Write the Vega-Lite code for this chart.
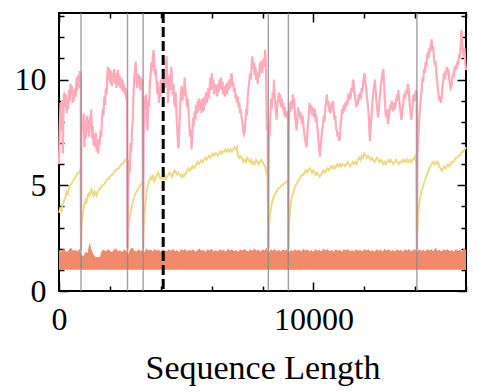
{
"$schema":"https://vega.github.io/schema/vega-lite/v6.json",
"width":407,"height":278,
"autosize":{"type":"none"},
"padding":{"left":59,"top":13,"right":13,"bottom":101},
"background":"white",
"config":{"view":{"stroke":"black","strokeWidth":2},
"axis":{"labelFont":"Liberation Serif","titleFont":"Liberation Serif","labelFontSize":32,"titleFontSize":34,"titleFontWeight":"normal","labelColor":"black","titleColor":"black","domain":false,"grid":false,"tickColor":"black","tickWidth":1.5,"labelOverlap":false,"labelFlush":false}},
"datasets":{
"orange":[{"x":0,"y":1.93},{"x":80,"y":1.86},{"x":160,"y":1.99},{"x":240,"y":1.91},{"x":320,"y":1.84},{"x":400,"y":1.97},{"x":480,"y":2.04},{"x":560,"y":1.89},{"x":640,"y":1.95},{"x":720,"y":1.86},{"x":800,"y":2.0},{"x":880,"y":1.7},{"x":960,"y":1.65},{"x":1040,"y":1.85},{"x":1120,"y":1.78},{"x":1200,"y":2.3},{"x":1280,"y":1.95},{"x":1360,"y":1.72},{"x":1440,"y":1.6},{"x":1520,"y":1.62},{"x":1600,"y":1.58},{"x":1680,"y":1.9},{"x":1760,"y":1.95},{"x":1840,"y":1.87},{"x":1920,"y":1.98},{"x":2000,"y":1.9},{"x":2080,"y":1.84},{"x":2160,"y":1.95},{"x":2240,"y":2.01},{"x":2320,"y":1.88},{"x":2400,"y":1.93},{"x":2480,"y":1.85},{"x":2560,"y":1.97},{"x":2640,"y":1.9},{"x":2720,"y":1.75},{"x":2800,"y":1.98},{"x":2880,"y":2.06},{"x":2960,"y":1.91},{"x":3040,"y":1.87},{"x":3120,"y":1.98},{"x":3200,"y":1.9},{"x":3280,"y":1.94},{"x":3360,"y":1.85},{"x":3440,"y":2.02},{"x":3520,"y":1.92},{"x":3600,"y":1.97},{"x":3680,"y":1.87},{"x":3760,"y":1.99},{"x":3840,"y":1.91},{"x":3920,"y":1.95},{"x":4000,"y":1.86},{"x":4080,"y":1.98},{"x":4160,"y":1.92},{"x":4240,"y":1.88},{"x":4320,"y":1.97},{"x":4400,"y":1.9},{"x":4480,"y":2.0},{"x":4560,"y":1.87},{"x":4640,"y":1.94},{"x":4720,"y":1.85},{"x":4800,"y":1.97},{"x":4880,"y":1.91},{"x":4960,"y":1.99},{"x":5040,"y":1.88},{"x":5120,"y":1.95},{"x":5200,"y":1.9},{"x":5280,"y":1.98},{"x":5360,"y":1.87},{"x":5440,"y":1.93},{"x":5520,"y":2.01},{"x":5600,"y":1.9},{"x":5680,"y":1.95},{"x":5760,"y":1.86},{"x":5840,"y":1.97},{"x":5920,"y":1.91},{"x":6000,"y":1.99},{"x":6080,"y":1.88},{"x":6160,"y":1.94},{"x":6240,"y":1.87},{"x":6320,"y":1.98},{"x":6400,"y":1.9},{"x":6480,"y":1.95},{"x":6560,"y":1.86},{"x":6640,"y":2.0},{"x":6720,"y":1.91},{"x":6800,"y":1.97},{"x":6880,"y":1.88},{"x":6960,"y":1.94},{"x":7040,"y":1.85},{"x":7120,"y":1.97},{"x":7200,"y":1.9},{"x":7280,"y":1.99},{"x":7360,"y":1.92},{"x":7440,"y":1.87},{"x":7520,"y":1.97},{"x":7600,"y":1.9},{"x":7680,"y":2.01},{"x":7760,"y":1.91},{"x":7840,"y":1.95},{"x":7920,"y":1.87},{"x":8000,"y":1.98},{"x":8080,"y":1.92},{"x":8160,"y":2.04},{"x":8240,"y":1.82},{"x":8320,"y":1.97},{"x":8400,"y":1.9},{"x":8480,"y":1.99},{"x":8560,"y":1.88},{"x":8640,"y":1.95},{"x":8720,"y":1.87},{"x":8800,"y":1.98},{"x":8880,"y":1.91},{"x":8960,"y":1.97},{"x":9040,"y":1.84},{"x":9120,"y":1.94},{"x":9200,"y":1.88},{"x":9280,"y":1.98},{"x":9360,"y":1.9},{"x":9440,"y":1.95},{"x":9520,"y":1.87},{"x":9600,"y":1.99},{"x":9680,"y":1.91},{"x":9760,"y":1.97},{"x":9840,"y":1.88},{"x":9920,"y":1.94},{"x":10000,"y":1.86},{"x":10080,"y":1.98},{"x":10160,"y":1.9},{"x":10240,"y":1.95},{"x":10320,"y":1.87},{"x":10400,"y":2.0},{"x":10480,"y":1.91},{"x":10560,"y":1.97},{"x":10640,"y":1.88},{"x":10720,"y":1.94},{"x":10800,"y":1.87},{"x":10880,"y":1.98},{"x":10960,"y":1.9},{"x":11040,"y":1.95},{"x":11120,"y":1.86},{"x":11200,"y":1.97},{"x":11280,"y":1.91},{"x":11360,"y":1.99},{"x":11440,"y":1.88},{"x":11520,"y":1.94},{"x":11600,"y":1.87},{"x":11680,"y":1.98},{"x":11760,"y":1.9},{"x":11840,"y":1.95},{"x":11920,"y":1.87},{"x":12000,"y":1.99},{"x":12080,"y":1.91},{"x":12160,"y":1.97},{"x":12240,"y":1.88},{"x":12320,"y":1.94},{"x":12400,"y":1.86},{"x":12480,"y":1.98},{"x":12560,"y":1.9},{"x":12640,"y":1.95},{"x":12720,"y":1.87},{"x":12800,"y":1.99},{"x":12880,"y":1.91},{"x":12960,"y":1.97},{"x":13040,"y":1.88},{"x":13120,"y":1.94},{"x":13200,"y":1.87},{"x":13280,"y":1.98},{"x":13360,"y":1.9},{"x":13440,"y":1.95},{"x":13520,"y":1.86},{"x":13600,"y":1.97},{"x":13680,"y":1.91},{"x":13760,"y":1.99},{"x":13840,"y":1.88},{"x":13920,"y":1.94},{"x":14000,"y":1.99},{"x":14080,"y":1.85},{"x":14160,"y":1.97},{"x":14240,"y":1.9},{"x":14320,"y":1.95},{"x":14400,"y":1.87},{"x":14480,"y":1.99},{"x":14560,"y":1.91},{"x":14640,"y":1.97},{"x":14720,"y":1.88},{"x":14800,"y":2.04},{"x":14880,"y":1.9},{"x":14960,"y":1.95},{"x":15040,"y":1.87},{"x":15120,"y":1.98},{"x":15200,"y":1.91},{"x":15280,"y":1.97},{"x":15360,"y":1.88},{"x":15440,"y":1.94},{"x":15520,"y":1.86},{"x":15600,"y":1.98},{"x":15680,"y":1.9},{"x":15760,"y":1.95},{"x":15840,"y":1.87},{"x":15920,"y":2.02},{"x":16000,"y":1.95}],
"yellow":[{"x":0,"y":3.7},{"x":50,"y":3.9},{"x":100,"y":3.8},{"x":150,"y":4.1},{"x":200,"y":4.3},{"x":250,"y":4.4},{"x":300,"y":4.7},{"x":350,"y":4.6},{"x":400,"y":4.9},{"x":450,"y":5.0},{"x":500,"y":5.1},{"x":550,"y":5.2},{"x":600,"y":5.3},{"x":650,"y":5.4},{"x":700,"y":5.5},{"x":750,"y":5.6},{"x":800,"y":5.6},{"x":850,"y":5.8},{"x":866,"y":1.9},{"x":880,"y":3.0},{"x":920,"y":3.5},{"x":960,"y":3.8},{"x":1000,"y":4.1},{"x":1040,"y":4.3},{"x":1080,"y":4.2},{"x":1120,"y":4.5},{"x":1160,"y":4.6},{"x":1200,"y":4.5},{"x":1240,"y":4.7},{"x":1280,"y":4.8},{"x":1320,"y":4.6},{"x":1360,"y":4.5},{"x":1400,"y":4.7},{"x":1440,"y":4.6},{"x":1480,"y":4.5},{"x":1520,"y":4.7},{"x":1560,"y":4.8},{"x":1600,"y":4.8},{"x":1650,"y":4.9},{"x":1700,"y":5.0},{"x":1750,"y":5.0},{"x":1800,"y":5.1},{"x":1850,"y":5.2},{"x":1900,"y":5.3},{"x":1950,"y":5.3},{"x":2000,"y":5.4},{"x":2050,"y":5.5},{"x":2100,"y":5.5},{"x":2150,"y":5.6},{"x":2200,"y":5.7},{"x":2250,"y":5.7},{"x":2300,"y":5.8},{"x":2350,"y":5.8},{"x":2400,"y":5.9},{"x":2450,"y":6.0},{"x":2500,"y":6.0},{"x":2550,"y":6.1},{"x":2600,"y":6.2},{"x":2650,"y":6.2},{"x":2680,"y":6.3},{"x":2693,"y":1.9},{"x":2710,"y":2.6},{"x":2750,"y":3.2},{"x":2800,"y":3.6},{"x":2850,"y":3.9},{"x":2900,"y":4.2},{"x":2950,"y":4.4},{"x":3000,"y":4.6},{"x":3050,"y":4.7},{"x":3100,"y":4.8},{"x":3150,"y":4.9},{"x":3200,"y":5.0},{"x":3250,"y":5.1},{"x":3290,"y":5.2},{"x":3307,"y":1.9},{"x":3320,"y":2.9},{"x":3360,"y":3.6},{"x":3400,"y":4.2},{"x":3450,"y":4.7},{"x":3500,"y":5.0},{"x":3550,"y":5.2},{"x":3600,"y":5.4},{"x":3650,"y":5.3},{"x":3700,"y":5.5},{"x":3750,"y":5.2},{"x":3800,"y":5.3},{"x":3850,"y":5.5},{"x":3900,"y":5.6},{"x":3950,"y":5.4},{"x":4000,"y":5.3},{"x":4050,"y":5.4},{"x":4100,"y":5.3},{"x":4150,"y":5.5},{"x":4200,"y":5.3},{"x":4250,"y":5.4},{"x":4300,"y":5.5},{"x":4350,"y":5.6},{"x":4400,"y":5.5},{"x":4450,"y":5.4},{"x":4500,"y":5.6},{"x":4550,"y":5.7},{"x":4600,"y":5.6},{"x":4650,"y":5.5},{"x":4700,"y":5.6},{"x":4750,"y":5.5},{"x":4800,"y":5.4},{"x":4850,"y":5.5},{"x":4900,"y":5.4},{"x":4950,"y":5.5},{"x":5000,"y":5.6},{"x":5050,"y":5.7},{"x":5100,"y":5.8},{"x":5150,"y":5.7},{"x":5200,"y":5.8},{"x":5250,"y":5.9},{"x":5300,"y":5.8},{"x":5350,"y":5.9},{"x":5400,"y":6.0},{"x":5450,"y":6.1},{"x":5500,"y":6.0},{"x":5550,"y":6.1},{"x":5600,"y":6.2},{"x":5650,"y":6.1},{"x":5700,"y":6.2},{"x":5750,"y":6.3},{"x":5800,"y":6.2},{"x":5850,"y":6.3},{"x":5900,"y":6.4},{"x":5950,"y":6.3},{"x":6000,"y":6.4},{"x":6050,"y":6.5},{"x":6100,"y":6.4},{"x":6150,"y":6.5},{"x":6200,"y":6.5},{"x":6250,"y":6.4},{"x":6300,"y":6.5},{"x":6350,"y":6.6},{"x":6400,"y":6.5},{"x":6450,"y":6.6},{"x":6500,"y":6.6},{"x":6550,"y":6.7},{"x":6600,"y":6.6},{"x":6650,"y":6.7},{"x":6700,"y":6.6},{"x":6750,"y":6.7},{"x":6800,"y":6.6},{"x":6850,"y":6.7},{"x":6900,"y":6.8},{"x":6950,"y":6.7},{"x":7000,"y":6.8},{"x":7030,"y":6.4},{"x":7080,"y":6.3},{"x":7120,"y":6.4},{"x":7160,"y":6.3},{"x":7200,"y":6.3},{"x":7250,"y":6.1},{"x":7300,"y":6.2},{"x":7350,"y":6.1},{"x":7400,"y":6.3},{"x":7450,"y":6.2},{"x":7500,"y":6.1},{"x":7550,"y":6.2},{"x":7600,"y":6.0},{"x":7650,"y":6.1},{"x":7700,"y":6.0},{"x":7750,"y":6.2},{"x":7800,"y":6.1},{"x":7850,"y":6.0},{"x":7900,"y":6.1},{"x":7950,"y":6.2},{"x":8000,"y":6.1},{"x":8050,"y":6.0},{"x":8100,"y":5.9},{"x":8150,"y":5.6},{"x":8200,"y":5.4},{"x":8228,"y":1.9},{"x":8240,"y":2.7},{"x":8280,"y":3.4},{"x":8320,"y":3.8},{"x":8360,"y":4.1},{"x":8400,"y":4.3},{"x":8450,"y":4.5},{"x":8500,"y":4.6},{"x":8550,"y":4.7},{"x":8600,"y":4.8},{"x":8650,"y":4.9},{"x":8700,"y":4.9},{"x":8750,"y":5.0},{"x":8800,"y":5.0},{"x":8850,"y":5.1},{"x":8900,"y":5.1},{"x":8950,"y":5.2},{"x":9000,"y":5.2},{"x":9016,"y":1.9},{"x":9030,"y":2.8},{"x":9070,"y":3.6},{"x":9110,"y":4.1},{"x":9150,"y":4.4},{"x":9200,"y":4.6},{"x":9250,"y":4.8},{"x":9300,"y":5.0},{"x":9350,"y":5.1},{"x":9400,"y":5.2},{"x":9450,"y":5.3},{"x":9500,"y":5.4},{"x":9550,"y":5.5},{"x":9600,"y":5.5},{"x":9650,"y":5.6},{"x":9700,"y":5.7},{"x":9750,"y":5.6},{"x":9800,"y":5.7},{"x":9850,"y":5.8},{"x":9900,"y":5.7},{"x":9950,"y":5.6},{"x":10000,"y":5.7},{"x":10050,"y":5.6},{"x":10100,"y":5.5},{"x":10150,"y":5.6},{"x":10200,"y":5.5},{"x":10250,"y":5.4},{"x":10300,"y":5.5},{"x":10350,"y":5.6},{"x":10400,"y":5.7},{"x":10450,"y":5.6},{"x":10500,"y":5.7},{"x":10550,"y":5.8},{"x":10600,"y":5.7},{"x":10650,"y":5.8},{"x":10700,"y":5.9},{"x":10750,"y":5.8},{"x":10800,"y":5.9},{"x":10850,"y":5.8},{"x":10900,"y":5.9},{"x":10950,"y":6.0},{"x":11000,"y":5.9},{"x":11050,"y":6.0},{"x":11100,"y":5.9},{"x":11150,"y":6.0},{"x":11200,"y":6.0},{"x":11250,"y":5.9},{"x":11300,"y":6.0},{"x":11350,"y":6.1},{"x":11400,"y":6.0},{"x":11450,"y":5.9},{"x":11500,"y":6.0},{"x":11550,"y":6.1},{"x":11600,"y":6.0},{"x":11650,"y":6.1},{"x":11700,"y":6.0},{"x":11750,"y":6.2},{"x":11800,"y":6.3},{"x":11850,"y":6.2},{"x":11900,"y":6.4},{"x":11950,"y":6.3},{"x":12000,"y":6.5},{"x":12050,"y":6.4},{"x":12100,"y":6.3},{"x":12150,"y":6.4},{"x":12200,"y":6.3},{"x":12250,"y":6.2},{"x":12300,"y":6.3},{"x":12350,"y":6.2},{"x":12400,"y":6.1},{"x":12450,"y":6.2},{"x":12500,"y":6.3},{"x":12550,"y":6.2},{"x":12600,"y":6.1},{"x":12650,"y":6.2},{"x":12700,"y":6.1},{"x":12750,"y":6.0},{"x":12800,"y":6.1},{"x":12850,"y":6.0},{"x":12900,"y":6.1},{"x":12950,"y":6.2},{"x":13000,"y":6.1},{"x":13050,"y":6.2},{"x":13100,"y":6.1},{"x":13150,"y":6.0},{"x":13200,"y":6.1},{"x":13250,"y":6.2},{"x":13300,"y":6.1},{"x":13350,"y":6.0},{"x":13400,"y":6.1},{"x":13450,"y":6.1},{"x":13500,"y":6.2},{"x":13550,"y":6.1},{"x":13600,"y":6.2},{"x":13650,"y":6.1},{"x":13700,"y":6.2},{"x":13750,"y":6.1},{"x":13800,"y":6.2},{"x":13850,"y":6.1},{"x":13900,"y":6.2},{"x":13950,"y":6.3},{"x":14000,"y":6.2},{"x":14040,"y":6.5},{"x":14070,"y":1.9},{"x":14085,"y":2.8},{"x":14120,"y":3.6},{"x":14160,"y":4.1},{"x":14200,"y":4.4},{"x":14250,"y":4.7},{"x":14300,"y":4.9},{"x":14350,"y":5.1},{"x":14400,"y":5.3},{"x":14450,"y":5.5},{"x":14500,"y":5.6},{"x":14550,"y":5.8},{"x":14600,"y":5.9},{"x":14650,"y":6.0},{"x":14700,"y":6.1},{"x":14750,"y":6.0},{"x":14800,"y":6.1},{"x":14850,"y":6.0},{"x":14900,"y":6.1},{"x":14950,"y":5.9},{"x":15000,"y":5.8},{"x":15050,"y":5.7},{"x":15100,"y":5.8},{"x":15150,"y":5.9},{"x":15200,"y":5.8},{"x":15250,"y":5.9},{"x":15300,"y":6.0},{"x":15350,"y":5.9},{"x":15400,"y":6.0},{"x":15450,"y":6.1},{"x":15500,"y":6.1},{"x":15550,"y":6.2},{"x":15600,"y":6.3},{"x":15650,"y":6.3},{"x":15700,"y":6.4},{"x":15750,"y":6.4},{"x":15800,"y":6.5},{"x":15850,"y":6.6},{"x":15900,"y":6.6},{"x":15950,"y":6.7},{"x":16000,"y":6.8}],
"pink":[{"x":0,"y":6.0},{"x":30,"y":7.8},{"x":60,"y":8.9},{"x":90,"y":7.6},{"x":120,"y":9.0},{"x":150,"y":6.5},{"x":180,"y":8.8},{"x":210,"y":9.4},{"x":240,"y":8.7},{"x":270,"y":9.3},{"x":300,"y":8.4},{"x":330,"y":9.1},{"x":360,"y":8.6},{"x":390,"y":9.5},{"x":420,"y":9.0},{"x":450,"y":9.8},{"x":480,"y":9.3},{"x":510,"y":9.7},{"x":540,"y":8.9},{"x":570,"y":9.5},{"x":600,"y":9.0},{"x":630,"y":9.6},{"x":660,"y":9.2},{"x":690,"y":10.1},{"x":720,"y":9.5},{"x":750,"y":10.2},{"x":780,"y":9.6},{"x":810,"y":10.4},{"x":840,"y":9.8},{"x":855,"y":10.3},{"x":866,"y":2.0},{"x":880,"y":7.4},{"x":910,"y":8.2},{"x":940,"y":7.6},{"x":970,"y":8.4},{"x":1000,"y":6.8},{"x":1030,"y":8.0},{"x":1060,"y":7.2},{"x":1090,"y":8.3},{"x":1120,"y":7.6},{"x":1150,"y":8.1},{"x":1180,"y":7.3},{"x":1210,"y":8.3},{"x":1240,"y":7.7},{"x":1270,"y":8.6},{"x":1300,"y":7.2},{"x":1330,"y":7.8},{"x":1360,"y":6.9},{"x":1390,"y":7.4},{"x":1420,"y":6.8},{"x":1450,"y":7.5},{"x":1480,"y":6.6},{"x":1510,"y":7.2},{"x":1540,"y":6.5},{"x":1570,"y":7.1},{"x":1600,"y":6.9},{"x":1630,"y":7.6},{"x":1660,"y":7.3},{"x":1690,"y":8.1},{"x":1720,"y":8.6},{"x":1750,"y":8.3},{"x":1780,"y":9.2},{"x":1810,"y":8.8},{"x":1840,"y":9.6},{"x":1870,"y":9.3},{"x":1900,"y":10.2},{"x":1930,"y":10.6},{"x":1960,"y":10.0},{"x":1990,"y":10.5},{"x":2020,"y":9.8},{"x":2050,"y":10.4},{"x":2080,"y":9.7},{"x":2110,"y":10.3},{"x":2140,"y":9.9},{"x":2170,"y":10.5},{"x":2200,"y":9.8},{"x":2230,"y":10.3},{"x":2260,"y":9.6},{"x":2290,"y":10.2},{"x":2320,"y":10.45},{"x":2350,"y":9.7},{"x":2380,"y":10.2},{"x":2410,"y":9.6},{"x":2440,"y":10.1},{"x":2470,"y":9.5},{"x":2500,"y":10.0},{"x":2530,"y":9.4},{"x":2560,"y":9.8},{"x":2590,"y":9.3},{"x":2620,"y":9.6},{"x":2650,"y":9.0},{"x":2675,"y":9.3},{"x":2693,"y":2.0},{"x":2720,"y":4.5},{"x":2750,"y":6.2},{"x":2780,"y":5.6},{"x":2810,"y":7.0},{"x":2840,"y":6.6},{"x":2870,"y":7.6},{"x":2900,"y":8.1},{"x":2930,"y":9.4},{"x":2960,"y":10.1},{"x":2990,"y":10.5},{"x":3015,"y":10.85},{"x":3040,"y":10.2},{"x":3070,"y":9.6},{"x":3100,"y":10.3},{"x":3130,"y":9.7},{"x":3160,"y":10.2},{"x":3190,"y":9.5},{"x":3220,"y":10.1},{"x":3250,"y":9.8},{"x":3280,"y":10.0},{"x":3307,"y":2.0},{"x":3330,"y":7.5},{"x":3360,"y":9.2},{"x":3390,"y":8.6},{"x":3420,"y":9.3},{"x":3450,"y":8.2},{"x":3480,"y":7.6},{"x":3510,"y":9.0},{"x":3540,"y":8.7},{"x":3570,"y":9.8},{"x":3600,"y":10.2},{"x":3630,"y":10.8},{"x":3660,"y":10.4},{"x":3690,"y":11.1},{"x":3720,"y":11.4},{"x":3750,"y":10.7},{"x":3780,"y":10.2},{"x":3810,"y":10.5},{"x":3840,"y":9.8},{"x":3870,"y":9.3},{"x":3900,"y":9.9},{"x":3930,"y":8.9},{"x":3960,"y":9.6},{"x":3990,"y":9.2},{"x":4020,"y":10.0},{"x":4050,"y":9.5},{"x":4080,"y":10.2},{"x":4110,"y":9.4},{"x":4140,"y":10.1},{"x":4170,"y":9.6},{"x":4200,"y":10.6},{"x":4230,"y":11.1},{"x":4260,"y":9.8},{"x":4290,"y":8.9},{"x":4320,"y":9.7},{"x":4350,"y":10.2},{"x":4380,"y":9.5},{"x":4410,"y":10.6},{"x":4440,"y":10.0},{"x":4470,"y":9.3},{"x":4500,"y":9.8},{"x":4530,"y":8.9},{"x":4560,"y":8.7},{"x":4590,"y":9.4},{"x":4620,"y":8.3},{"x":4650,"y":7.6},{"x":4680,"y":6.9},{"x":4700,"y":6.75},{"x":4730,"y":7.8},{"x":4760,"y":8.8},{"x":4790,"y":9.3},{"x":4820,"y":9.7},{"x":4850,"y":9.0},{"x":4880,"y":9.6},{"x":4910,"y":9.2},{"x":4940,"y":10.1},{"x":4970,"y":9.5},{"x":5000,"y":9.2},{"x":5030,"y":8.7},{"x":5060,"y":9.1},{"x":5090,"y":8.6},{"x":5120,"y":7.9},{"x":5150,"y":7.3},{"x":5180,"y":7.6},{"x":5210,"y":6.7},{"x":5240,"y":7.4},{"x":5270,"y":8.2},{"x":5300,"y":7.8},{"x":5330,"y":8.5},{"x":5360,"y":8.1},{"x":5390,"y":8.8},{"x":5420,"y":8.4},{"x":5450,"y":9.0},{"x":5480,"y":8.5},{"x":5510,"y":9.1},{"x":5540,"y":8.6},{"x":5570,"y":9.0},{"x":5600,"y":8.4},{"x":5630,"y":9.1},{"x":5660,"y":8.9},{"x":5690,"y":8.5},{"x":5720,"y":9.2},{"x":5750,"y":8.8},{"x":5780,"y":9.4},{"x":5810,"y":8.9},{"x":5840,"y":9.2},{"x":5870,"y":9.6},{"x":5900,"y":9.1},{"x":5930,"y":9.8},{"x":5960,"y":10.1},{"x":5990,"y":9.5},{"x":6010,"y":10.3},{"x":6040,"y":9.6},{"x":6070,"y":10.0},{"x":6100,"y":9.3},{"x":6130,"y":9.8},{"x":6160,"y":9.5},{"x":6190,"y":9.7},{"x":6220,"y":9.2},{"x":6250,"y":9.8},{"x":6280,"y":9.4},{"x":6310,"y":10.0},{"x":6340,"y":9.6},{"x":6370,"y":10.1},{"x":6400,"y":9.5},{"x":6430,"y":9.9},{"x":6460,"y":9.3},{"x":6490,"y":9.7},{"x":6520,"y":9.2},{"x":6550,"y":9.5},{"x":6580,"y":9.8},{"x":6610,"y":9.3},{"x":6640,"y":9.9},{"x":6670,"y":9.5},{"x":6700,"y":10.0},{"x":6730,"y":9.6},{"x":6760,"y":10.2},{"x":6790,"y":10.3},{"x":6820,"y":9.7},{"x":6850,"y":9.9},{"x":6880,"y":9.4},{"x":6910,"y":9.6},{"x":6940,"y":9.1},{"x":6970,"y":9.3},{"x":7000,"y":8.9},{"x":7030,"y":9.2},{"x":7060,"y":8.7},{"x":7090,"y":8.9},{"x":7120,"y":8.4},{"x":7150,"y":8.6},{"x":7180,"y":8.2},{"x":7210,"y":8.0},{"x":7240,"y":7.6},{"x":7270,"y":7.4},{"x":7300,"y":7.5},{"x":7330,"y":8.1},{"x":7360,"y":8.6},{"x":7390,"y":8.3},{"x":7420,"y":9.2},{"x":7450,"y":9.6},{"x":7480,"y":9.9},{"x":7510,"y":10.3},{"x":7540,"y":10.0},{"x":7570,"y":10.6},{"x":7600,"y":11.1},{"x":7630,"y":10.5},{"x":7660,"y":10.8},{"x":7690,"y":10.2},{"x":7720,"y":10.6},{"x":7750,"y":10.0},{"x":7780,"y":10.3},{"x":7810,"y":9.8},{"x":7840,"y":10.4},{"x":7870,"y":10.1},{"x":7900,"y":10.8},{"x":7930,"y":10.4},{"x":7960,"y":10.9},{"x":7990,"y":10.3},{"x":8020,"y":10.7},{"x":8050,"y":11.0},{"x":8080,"y":10.6},{"x":8100,"y":11.4},{"x":8130,"y":10.8},{"x":8150,"y":9.5},{"x":8170,"y":7.6},{"x":8200,"y":7.9},{"x":8228,"y":2.0},{"x":8250,"y":7.4},{"x":8280,"y":7.3},{"x":8310,"y":8.4},{"x":8340,"y":9.1},{"x":8370,"y":8.6},{"x":8400,"y":9.4},{"x":8430,"y":9.1},{"x":8450,"y":10.0},{"x":8480,"y":9.2},{"x":8510,"y":8.8},{"x":8540,"y":8.3},{"x":8556,"y":8.1},{"x":8580,"y":8.8},{"x":8610,"y":9.0},{"x":8640,"y":9.4},{"x":8670,"y":8.9},{"x":8700,"y":9.3},{"x":8730,"y":8.7},{"x":8760,"y":9.1},{"x":8790,"y":8.6},{"x":8820,"y":8.9},{"x":8850,"y":8.3},{"x":8880,"y":8.7},{"x":8910,"y":8.2},{"x":8940,"y":8.5},{"x":8970,"y":8.2},{"x":9000,"y":8.5},{"x":9016,"y":2.0},{"x":9040,"y":8.0},{"x":9070,"y":8.9},{"x":9100,"y":8.5},{"x":9130,"y":9.0},{"x":9160,"y":8.6},{"x":9190,"y":9.3},{"x":9220,"y":8.8},{"x":9250,"y":9.1},{"x":9280,"y":8.2},{"x":9310,"y":8.0},{"x":9340,"y":7.6},{"x":9370,"y":8.2},{"x":9400,"y":8.7},{"x":9430,"y":8.3},{"x":9460,"y":8.5},{"x":9490,"y":8.1},{"x":9520,"y":8.4},{"x":9550,"y":7.9},{"x":9580,"y":8.3},{"x":9610,"y":7.8},{"x":9640,"y":7.5},{"x":9670,"y":7.2},{"x":9700,"y":7.0},{"x":9730,"y":6.8},{"x":9760,"y":7.4},{"x":9790,"y":7.9},{"x":9820,"y":8.3},{"x":9850,"y":8.9},{"x":9880,"y":8.5},{"x":9910,"y":8.8},{"x":9940,"y":8.3},{"x":9970,"y":8.7},{"x":10000,"y":8.5},{"x":10030,"y":8.2},{"x":10060,"y":8.6},{"x":10090,"y":8.0},{"x":10120,"y":8.3},{"x":10150,"y":7.8},{"x":10180,"y":7.5},{"x":10210,"y":7.0},{"x":10240,"y":6.6},{"x":10260,"y":6.35},{"x":10290,"y":6.9},{"x":10320,"y":7.3},{"x":10350,"y":7.6},{"x":10380,"y":7.9},{"x":10410,"y":8.3},{"x":10440,"y":8.0},{"x":10470,"y":8.7},{"x":10500,"y":8.9},{"x":10530,"y":9.3},{"x":10560,"y":8.8},{"x":10590,"y":9.0},{"x":10620,"y":8.5},{"x":10650,"y":8.7},{"x":10680,"y":8.4},{"x":10710,"y":8.9},{"x":10740,"y":8.6},{"x":10770,"y":9.0},{"x":10800,"y":8.5},{"x":10830,"y":8.1},{"x":10860,"y":8.3},{"x":10890,"y":7.7},{"x":10920,"y":7.6},{"x":10950,"y":7.3},{"x":10980,"y":7.5},{"x":11010,"y":7.1},{"x":11040,"y":7.2},{"x":11070,"y":7.8},{"x":11100,"y":8.2},{"x":11130,"y":8.6},{"x":11160,"y":8.4},{"x":11190,"y":8.8},{"x":11220,"y":8.5},{"x":11250,"y":8.9},{"x":11280,"y":8.7},{"x":11310,"y":9.0},{"x":11340,"y":8.8},{"x":11370,"y":9.3},{"x":11400,"y":9.0},{"x":11430,"y":9.4},{"x":11460,"y":9.1},{"x":11490,"y":9.6},{"x":11520,"y":9.4},{"x":11550,"y":9.9},{"x":11570,"y":10.0},{"x":11600,"y":9.5},{"x":11630,"y":9.2},{"x":11660,"y":9.0},{"x":11690,"y":8.7},{"x":11720,"y":9.0},{"x":11750,"y":8.8},{"x":11780,"y":9.3},{"x":11810,"y":9.0},{"x":11840,"y":9.4},{"x":11870,"y":9.1},{"x":11900,"y":9.6},{"x":11930,"y":9.4},{"x":11960,"y":9.9},{"x":11990,"y":10.1},{"x":12020,"y":10.3},{"x":12050,"y":9.8},{"x":12080,"y":9.5},{"x":12110,"y":9.1},{"x":12140,"y":8.8},{"x":12170,"y":8.4},{"x":12200,"y":7.6},{"x":12225,"y":7.1},{"x":12250,"y":7.6},{"x":12280,"y":8.2},{"x":12310,"y":8.7},{"x":12340,"y":9.2},{"x":12370,"y":9.6},{"x":12400,"y":9.8},{"x":12420,"y":10.0},{"x":12450,"y":9.4},{"x":12480,"y":9.0},{"x":12510,"y":8.6},{"x":12540,"y":8.2},{"x":12570,"y":8.5},{"x":12600,"y":9.0},{"x":12630,"y":9.4},{"x":12660,"y":9.8},{"x":12690,"y":10.1},{"x":12720,"y":10.3},{"x":12750,"y":10.5},{"x":12780,"y":9.8},{"x":12810,"y":9.0},{"x":12840,"y":8.4},{"x":12870,"y":8.2},{"x":12900,"y":8.6},{"x":12930,"y":7.9},{"x":12960,"y":8.1},{"x":12990,"y":8.5},{"x":13020,"y":8.8},{"x":13050,"y":8.6},{"x":13080,"y":9.0},{"x":13110,"y":8.8},{"x":13140,"y":8.5},{"x":13170,"y":8.9},{"x":13200,"y":8.6},{"x":13230,"y":8.8},{"x":13260,"y":9.1},{"x":13290,"y":9.3},{"x":13320,"y":9.0},{"x":13340,"y":9.5},{"x":13370,"y":9.1},{"x":13400,"y":8.7},{"x":13430,"y":8.4},{"x":13460,"y":8.1},{"x":13490,"y":8.4},{"x":13520,"y":8.8},{"x":13550,"y":9.1},{"x":13580,"y":9.35},{"x":13610,"y":9.1},{"x":13640,"y":9.5},{"x":13670,"y":9.3},{"x":13700,"y":9.7},{"x":13730,"y":9.8},{"x":13760,"y":9.3},{"x":13790,"y":8.8},{"x":13820,"y":8.4},{"x":13850,"y":8.1},{"x":13880,"y":8.5},{"x":13910,"y":8.9},{"x":13940,"y":9.3},{"x":13970,"y":9.0},{"x":13995,"y":9.2},{"x":14030,"y":9.5},{"x":14060,"y":9.3},{"x":14070,"y":2.0},{"x":14095,"y":6.5},{"x":14125,"y":7.3},{"x":14155,"y":8.0},{"x":14185,"y":8.6},{"x":14215,"y":9.0},{"x":14245,"y":9.4},{"x":14260,"y":9.65},{"x":14290,"y":10.1},{"x":14320,"y":9.9},{"x":14350,"y":10.5},{"x":14380,"y":10.3},{"x":14410,"y":10.8},{"x":14440,"y":10.6},{"x":14470,"y":11.1},{"x":14500,"y":11.3},{"x":14530,"y":11.0},{"x":14560,"y":11.5},{"x":14590,"y":11.3},{"x":14620,"y":11.7},{"x":14650,"y":11.9},{"x":14680,"y":11.4},{"x":14710,"y":11.6},{"x":14740,"y":11.0},{"x":14770,"y":10.7},{"x":14800,"y":10.9},{"x":14830,"y":10.3},{"x":14860,"y":10.0},{"x":14890,"y":9.6},{"x":14920,"y":9.3},{"x":14950,"y":9.0},{"x":14980,"y":9.2},{"x":15010,"y":8.9},{"x":15040,"y":9.1},{"x":15070,"y":9.6},{"x":15100,"y":9.9},{"x":15130,"y":10.3},{"x":15160,"y":10.0},{"x":15190,"y":10.4},{"x":15220,"y":10.2},{"x":15250,"y":10.6},{"x":15280,"y":10.3},{"x":15310,"y":10.5},{"x":15340,"y":10.0},{"x":15370,"y":9.8},{"x":15400,"y":9.6},{"x":15430,"y":9.7},{"x":15460,"y":10.0},{"x":15490,"y":10.3},{"x":15520,"y":10.1},{"x":15550,"y":10.6},{"x":15580,"y":10.4},{"x":15610,"y":10.7},{"x":15640,"y":10.5},{"x":15670,"y":10.9},{"x":15700,"y":10.7},{"x":15730,"y":11.2},{"x":15760,"y":11.0},{"x":15790,"y":11.6},{"x":15820,"y":12.35},{"x":15850,"y":11.8},{"x":15880,"y":11.3},{"x":15910,"y":11.1},{"x":15940,"y":11.5},{"x":15970,"y":10.8},{"x":16000,"y":10.45}],
"resets":[{"x":866},{"x":2693},{"x":3307},{"x":8228},{"x":9016},{"x":14070}],
"marker":[{"x":4096}]
},
"layer":[
{"data":{"name":"orange"},"mark":{"type":"area","color":"#f08a6a","opacity":1},
"encoding":{
"x":{"field":"x","type":"quantitative","scale":{"domain":[0,16000],"nice":false,"zero":false},
"axis":{"orient":"bottom","title":"Sequence Length","titlePadding":12,"values":[0,2000,4000,6000,8000,10000,12000,14000,16000],"format":"d","labelExpr":"datum.value % 10000 === 0 ? datum.label : ''","tickSize":{"condition":{"test":"datum.value % 10000 === 0","value":-9},"value":-5},"labelPadding":22}},
"y":{"field":"y","type":"quantitative","scale":{"domain":[0,13.15],"nice":false,"zero":false},
"axis":{"orient":"left","title":null,"values":[0,1,2,3,4,5,6,7,8,9,10,11,12,13],"labelExpr":"datum.value % 5 === 0 ? datum.label : ''","tickSize":{"condition":{"test":"datum.value % 5 === 0","value":-9},"value":-5},"labelPadding":22}},
"y2":{"datum":1.0}}},
{"data":{"name":"yellow"},"mark":{"type":"line","color":"#ebdb84","strokeWidth":2},
"encoding":{"x":{"field":"x","type":"quantitative","axis":null},"y":{"field":"y","type":"quantitative","axis":null}}},
{"data":{"name":"pink"},"mark":{"type":"line","color":"#ffabba","strokeWidth":2.2},
"encoding":{
"x":{"field":"x","type":"quantitative","axis":{"orient":"top","title":null,"labels":false,"values":[0,2000,4000,6000,8000,10000,12000,14000,16000],"tickSize":{"condition":{"test":"datum.value % 10000 === 0","value":-9},"value":-5}}},
"y":{"field":"y","type":"quantitative","axis":{"orient":"right","title":null,"labels":false,"values":[0,1,2,3,4,5,6,7,8,9,10,11,12,13],"tickSize":{"condition":{"test":"datum.value % 5 === 0","value":-9},"value":-5}}}}},
{"data":{"name":"resets"},"mark":{"type":"rule","color":"#888888","strokeWidth":1.4,"opacity":0.8},
"encoding":{"x":{"field":"x","type":"quantitative","axis":null}}},
{"data":{"name":"marker"},"mark":{"type":"rule","color":"black","strokeWidth":3,"strokeDash":[10,4]},
"encoding":{"x":{"field":"x","type":"quantitative","axis":null}}}
],
"resolve":{"axis":{"x":"independent","y":"independent"}}
}
